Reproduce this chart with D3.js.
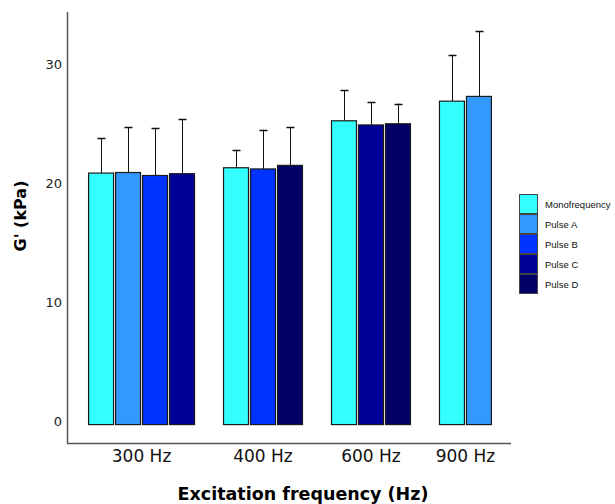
<!DOCTYPE html>
<html>
<head>
<meta charset="utf-8">
<script src="https://cdn.jsdelivr.net/npm/d3@7"></script>
<style>
  body { margin: 0; background: #fff; }
  svg { display: block; }
</style>
</head>
<body>
<div id="chart"></div>
<script>
const frequencies = ["300 Hz", "400 Hz", "600 Hz", "900 Hz"];
const series = ["Monofrequency", "Pulse A", "Pulse B", "Pulse C", "Pulse D"];
const colors = ["#33ffff", "#3399ff", "#0033ff", "#000099", "#000066"];

// one entry per bar: frequency, pulse, mean, mean + sd
const barFreq = ["300 Hz", "300 Hz", "300 Hz", "300 Hz", "400 Hz", "400 Hz", "400 Hz", "600 Hz", "600 Hz", "600 Hz", "900 Hz", "900 Hz"];
const barSeries = ["Monofrequency", "Pulse A", "Pulse B", "Pulse C", "Monofrequency", "Pulse B", "Pulse D", "Monofrequency", "Pulse C", "Pulse D", "Monofrequency", "Pulse A"];
const barMean = [20.85, 20.9, 20.65, 20.8, 21.3, 21.2, 21.5, 25.25, 24.9, 25.0, 26.9, 27.3];
const barUpper = [23.8, 24.7, 24.65, 25.4, 22.8, 24.5, 24.7, 27.8, 26.8, 26.7, 30.8, 32.8];
const yTicks = [0, 10, 20, 30];

const width = 615;
const height = 504;

const bars = barFreq.map((f, i) => ({
  freq: f,
  name: barSeries[i],
  mean: barMean[i],
  upper: barUpper[i],
  key: f + "|" + barSeries[i]
}));

// slots: each bar, plus one empty slot between groups
const slots = [];
frequencies.forEach((f, gi) => {
  bars.filter((b) => b.freq === f).forEach((b) => slots.push(b.key));
  if (gi < frequencies.length - 1) slots.push("gap" + gi);
});

const svg = d3
  .select("#chart")
  .append("svg")
  .attr("width", width)
  .attr("height", height);

const x = d3.scaleBand().domain(slots).range([87.5, 492.5]).paddingInner(0.075).paddingOuter(0.04);
const y = d3.scaleLinear().domain([-1.85, 34.4]).range([443, 12]);
const color = d3.scaleOrdinal(series, colors);

// axes lines
svg
  .append("line")
  .attr("x1", 67.5)
  .attr("x2", 67.5)
  .attr("y1", 12)
  .attr("y2", 443.5)
  .attr("stroke", "#555")
  .attr("stroke-width", 1.5);
svg
  .append("line")
  .attr("x1", 67)
  .attr("x2", 511)
  .attr("y1", 443.5)
  .attr("y2", 443.5)
  .attr("stroke", "#555")
  .attr("stroke-width", 1.5);

// y tick labels
svg
  .append("g")
  .selectAll("text")
  .data(yTicks)
  .join("text")
  .attr("x", 62)
  .attr("y", (d) => y(d))
  .attr("dy", "0.35em")
  .attr("text-anchor", "end")
  .style("font-family", "DejaVu Sans")
  .style("font-size", "13px")
  .attr("fill", "#222")
  .text((d) => d);

// error bars
const err = svg.append("g").attr("stroke", "#111").attr("stroke-width", 1);
err
  .selectAll("line.v")
  .data(bars)
  .join("line")
  .attr("class", "v")
  .attr("x1", (d) => Math.round(x(d.key) + x.bandwidth() / 2) + 0.5)
  .attr("x2", (d) => Math.round(x(d.key) + x.bandwidth() / 2) + 0.5)
  .attr("y1", (d) => y(d.mean))
  .attr("y2", (d) => y(d.upper));
err
  .selectAll("line.cap")
  .data(bars)
  .join("line")
  .attr("class", "cap")
  .attr("x1", (d) => Math.round(x(d.key) + x.bandwidth() / 2) - 3.5)
  .attr("x2", (d) => Math.round(x(d.key) + x.bandwidth() / 2) + 4.5)
  .attr("y1", (d) => Math.round(y(d.upper)) + 0.5)
  .attr("y2", (d) => Math.round(y(d.upper)) + 0.5)
  .attr("stroke-width", 1.5);

// bars
svg
  .append("g")
  .selectAll("rect")
  .data(bars)
  .join("rect")
  .attr("x", (d) => x(d.key))
  .attr("y", (d) => y(d.mean))
  .attr("width", x.bandwidth())
  .attr("height", (d) => y(-0.3) - y(d.mean))
  .attr("fill", (d) => color(d.name))
  .attr("stroke", "#1a1a1a")
  .attr("stroke-width", 1.2);

// x tick labels (centred on each group)
svg
  .append("g")
  .selectAll("text")
  .data(frequencies)
  .join("text")
  .attr("x", (f) => {
    const keys = bars.filter((b) => b.freq === f).map((b) => b.key);
    return (x(keys[0]) + x(keys[keys.length - 1]) + x.bandwidth()) / 2;
  })
  .attr("y", 462)
  .attr("text-anchor", "middle")
  .style("font-family", "DejaVu Sans")
  .style("font-size", "17px")
  .attr("fill", "#111")
  .text((d) => d);

// axis titles
svg
  .append("text")
  .attr("x", 303)
  .attr("y", 500)
  .attr("text-anchor", "middle")
  .style("font-family", "DejaVu Sans")
  .style("font-weight", "bold")
  .style("font-size", "17.5px")
  .attr("fill", "#000")
  .text("Excitation frequency (Hz)");

svg
  .append("text")
  .attr("transform", "translate(26,216) rotate(-90)")
  .attr("text-anchor", "middle")
  .style("font-family", "DejaVu Sans")
  .style("font-weight", "bold")
  .style("font-size", "16px")
  .attr("fill", "#000")
  .text("G' (kPa)");

// legend
const legend = svg
  .append("g")
  .selectAll("g")
  .data(series)
  .join("g")
  .attr("transform", (d, i) => `translate(519.5,${194.5 + i * 20})`);
legend
  .append("rect")
  .attr("width", 18)
  .attr("height", 19)
  .attr("fill", (d) => color(d))
  .attr("stroke", "#444")
  .attr("stroke-width", 1);
legend
  .append("text")
  .attr("x", 25.5)
  .attr("y", 10)
  .attr("dy", "0.35em")
  .style("font-family", "Liberation Sans")
  .style("font-size", "9.5px")
  .attr("fill", "#111")
  .text((d) => d);
</script>
</body>
</html>
